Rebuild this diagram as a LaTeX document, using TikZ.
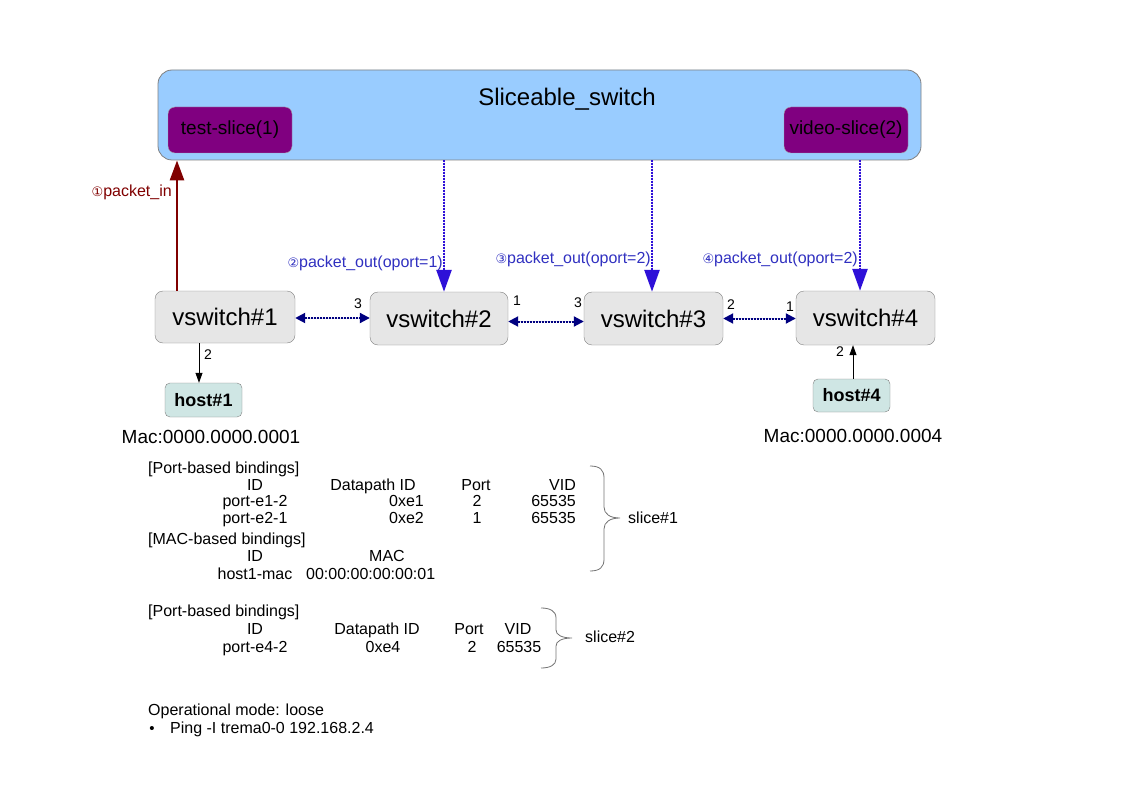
\documentclass[tikz,border=0pt]{standalone}
\usepackage{fontspec}
\setmainfont{Liberation Sans}
\newfontfamily\dejavu{DejaVu Sans}
\usetikzlibrary{arrows.meta}
\definecolor{skyfill}{HTML}{99CCFF}
\definecolor{slicefill}{HTML}{800080}
\definecolor{swfill}{HTML}{E6E6E6}
\definecolor{hostfill}{HTML}{CFE6E4}
\definecolor{boxline}{HTML}{808080}
\definecolor{pinred}{HTML}{800000}
\definecolor{poutblue}{HTML}{2E10D8}
\definecolor{poutlabel}{HTML}{3030C0}
\definecolor{linknavy}{HTML}{000080}
\tikzset{
  bigbox/.style={draw=boxline, fill=skyfill, rounded corners=14pt, line width=0.8pt},
  slicebox/.style={draw=boxline!70, fill=slicefill, rounded corners=7pt, minimum width=124pt, minimum height=46pt, font=\fontsize{19}{21}\selectfont, inner sep=0pt},
  swbox/.style={draw=boxline, fill=swfill, rounded corners=8pt, font=\fontsize{24}{26}\selectfont, inner sep=0pt},
  hostbox/.style={draw=boxline, fill=hostfill, rounded corners=5pt, minimum width=77pt, minimum height=34pt, font=\fontsize{18}{20}\selectfont\bfseries, inner sep=0pt},
  pinarrow/.style={draw=pinred, line width=2.6pt, -{Triangle[width=14pt,length=20pt]}, fill=pinred},
  poutarrow/.style={draw=poutblue, line width=2.6pt, dash pattern=on 2pt off 1pt, -{Triangle[width=15pt,length=22pt]}, fill=poutblue},
  linkarrow/.style={draw=linknavy, line width=2pt, dash pattern=on 2pt off 1pt, {Triangle[width=10pt,length=10pt]}-{Triangle[width=10pt,length=10pt]}, fill=linknavy},
  hostarrow/.style={draw=black, line width=0.8pt, -{Triangle[width=7pt,length=10pt]}},
  brace/.style={draw=black!55, line width=0.8pt},
  tbl/.style={inner sep=0pt, yshift=-2pt, font=\fontsize{16}{18}\selectfont},
  portlbl/.style={inner sep=0pt, font=\fontsize{14}{16}\selectfont},
  plbl/.style={inner sep=0pt, yshift=-2.5pt, text=poutlabel, font=\fontsize{16}{18}\selectfont, anchor=mid east},
  maclbl/.style={inner sep=0pt, font=\fontsize{19}{21}\selectfont},
}
\newcommand{\circnum}[1]{{\dejavu\fontsize{13}{15}\selectfont #1}}
\begin{document}
\begin{tikzpicture}[x=1pt,y=-1pt]
\useasboundingbox (0,0) rectangle (1123,794);
% controller
\node[bigbox, minimum width=763pt, minimum height=90pt] (sw) at (539.5,115) {};
\node[inner sep=0pt, font=\fontsize{24}{26}\selectfont] (title) at (567,99) {Sliceable\_switch};
\node[slicebox] (ts) at (230,130) {test-slice(1)};
\node[slicebox] (vs) at (846,130) {video-slice(2)};
% switches
\node[swbox, minimum width=140pt, minimum height=52pt] (v1) at (225,317) {vswitch\#1};
\node[swbox, minimum width=138pt, minimum height=53pt] (v2) at (439,318.5) {vswitch\#2};
\node[swbox, minimum width=139pt, minimum height=53pt] (v3) at (653.5,318.5) {vswitch\#3};
\node[swbox, minimum width=139pt, minimum height=54pt] (v4) at (865.5,318) {vswitch\#4};
% hosts
\node[hostbox] (h1) at (203.5,400) {host\#1};
\node[hostbox, minimum height=33pt] (h4) at (851.5,395.5) {host\#4};
\node[maclbl] (mac1) at (211,437) {Mac:0000.0000.0001};
\node[maclbl] (mac4) at (853,436) {Mac:0000.0000.0004};
% packet_in
\draw[pinarrow] ([xshift=-48pt]v1.north) -- ([xshift=-48pt]v1.north |- sw.south);
\node[inner sep=0pt, yshift=-2pt, text=pinred, font=\fontsize{16}{18}\selectfont, anchor=mid east] (pinl) at (172,192) {\circnum{①}packet\_in};
% packet_out
\draw[poutarrow] ([xshift=5pt]v2.north |- sw.south) -- ([xshift=5pt]v2.north);
\draw[poutarrow] ([xshift=-1.5pt]v3.north |- sw.south) -- ([xshift=-1.5pt]v3.north);
\draw[poutarrow] ([xshift=-5.5pt]v4.north |- sw.south) -- ([xshift=-5.5pt]v4.north);
\node[plbl] (po1) at (443,262) {\circnum{②}packet\_out(oport=1)};
\node[plbl] (po2) at (651,258) {\circnum{③}packet\_out(oport=2)};
\node[plbl] (po3) at (858,258) {\circnum{④}packet\_out(oport=2)};
% links
\draw[linkarrow] ([yshift=-1pt]v1.east) -- ([yshift=-1pt]v1.east -| v2.west);
\draw[linkarrow] ([yshift=-3pt]v2.east) -- ([yshift=-3pt]v2.east -| v3.west);
\draw[linkarrow] (v3.east) -- (v3.east -| v4.west);
\node[portlbl] (p12) at (358,304) {3};
\node[portlbl] (p21) at (517,301) {1};
\node[portlbl] (p23) at (578,303) {3};
\node[portlbl] (p32) at (731,305) {2};
\node[portlbl] (p41) at (790,307) {1};
% host links
\draw[hostarrow] ([xshift=-26pt]v1.south) -- ([xshift=-26pt]v1.south |- h1.north);
\draw[hostarrow] ([xshift=1.5pt]h4.north) -- ([xshift=1.5pt]h4.north |- v4.south);
\node[portlbl] (p1h) at (208,355) {2};
\node[portlbl] (p4h) at (840,352) {2};
% slice#1 table
\node[tbl, anchor=mid west] (t1h) at (148,469) {[Port-based bindings]};
\node[tbl, anchor=mid] (t1c1) at (255,486) {ID};
\node[tbl, anchor=mid] (t1c2) at (373,486) {Datapath ID};
\node[tbl, anchor=mid] (t1c3) at (476,486) {Port};
\node[tbl, anchor=mid east] (t1c4) at (576,486) {VID};
\node[tbl, anchor=mid] (t1r1a) at (255,502) {port-e1-2};
\node[tbl, anchor=mid east] (t1r1b) at (424,502) {0xe1};
\node[tbl, anchor=mid] (t1r1c) at (477,502) {2};
\node[tbl, anchor=mid east] (t1r1d) at (576,502) {65535};
\node[tbl, anchor=mid] (t1r2a) at (255,519) {port-e2-1};
\node[tbl, anchor=mid east] (t1r2b) at (424,519) {0xe2};
\node[tbl, anchor=mid] (t1r2c) at (477,519) {1};
\node[tbl, anchor=mid east] (t1r2d) at (576,519) {65535};
\node[tbl, anchor=mid west] (t1m) at (148,540) {[MAC-based bindings]};
\node[tbl, anchor=mid] (t1m1) at (255,557) {ID};
\node[tbl, anchor=mid] (t1m2) at (387,557) {MAC};
\node[tbl, anchor=mid] (t1m3) at (255,575) {host1-mac};
\node[tbl, anchor=mid west] (t1m4) at (306,575) {00:00:00:00:00:01};
\draw[brace] (590,466) .. controls (600,466) and (604,470) .. (604,478) -- (604,507) .. controls (604,514) and (610,518) .. (620,518) .. controls (610,518) and (604,522) .. (604,529) -- (604,559) .. controls (604,567) and (600,571) .. (590,571);
\node[tbl, anchor=mid west] (s1) at (628,519) {slice\#1};
% slice#2 table
\node[tbl, anchor=mid west] (t2h) at (148,612) {[Port-based bindings]};
\node[tbl, anchor=mid] (t2c1) at (255,630) {ID};
\node[tbl, anchor=mid] (t2c2) at (377,630) {Datapath ID};
\node[tbl, anchor=mid] (t2c3) at (469,630) {Port};
\node[tbl, anchor=mid] (t2c4) at (518,630) {VID};
\node[tbl, anchor=mid] (t2r1a) at (255,648) {port-e4-2};
\node[tbl, anchor=mid] (t2r1b) at (383,648) {0xe4};
\node[tbl, anchor=mid] (t2r1c) at (472,648) {2};
\node[tbl, anchor=mid] (t2r1d) at (519,648) {65535};
\draw[brace] (541,608) .. controls (550,608) and (556,611) .. (556,618) -- (556,630) .. controls (556,635) and (562,638) .. (572,638) .. controls (562,638) and (556,641) .. (556,646) -- (556,659) .. controls (556,665) and (550,668) .. (541,668);
\node[tbl, anchor=mid west] (s2) at (585,638) {slice\#2};
% notes
\node[tbl, anchor=mid west] (op) at (148,711) {Operational mode: loose};
\node[tbl, anchor=mid, font=\fontsize{15}{17}\selectfont] (bul) at (152,729) {\textbullet};
\node[tbl, anchor=mid west] (ping) at (170,729) {Ping -I trema0-0 192.168.2.4};
\end{tikzpicture}
\end{document}
